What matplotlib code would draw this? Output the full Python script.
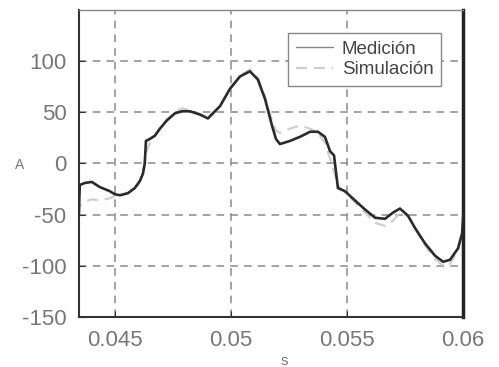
import matplotlib.pyplot as plt

# valores (tiempo en s, corriente en A)
t = [0.04345, 0.04349, 0.04371, 0.04401, 0.04435, 0.04478, 0.04500, 0.04522,
     0.04556, 0.04586, 0.04608, 0.04621, 0.04629, 0.04634, 0.04651, 0.04672,
     0.04694, 0.04724, 0.04759, 0.04789, 0.04823, 0.04866, 0.04901, 0.04953,
     0.04996, 0.05039, 0.05082, 0.05116, 0.05147, 0.05177, 0.05194, 0.05211,
     0.05254, 0.05297, 0.05341, 0.05375, 0.05405, 0.05427, 0.05444, 0.05461,
     0.05491, 0.05534, 0.05578, 0.05621, 0.05664, 0.05698, 0.05728, 0.05763,
     0.05793, 0.05836, 0.05879, 0.05914, 0.05944, 0.05978, 0.05996, 0.06000]

medicion = [-50, -21, -19, -18, -23, -27, -30, -31,
            -29, -24, -17, -10, 0, 22, 24, 27,
            34, 42, 49, 51, 51, 48, 44, 56,
            73, 85, 90, 82, 63, 37, 24, 19,
            22, 26, 31, 31, 26, 12, 8, -24,
            -27, -36, -45, -53, -54, -48, -44, -51,
            -63, -78, -90, -96, -94, -83, -68, -53]

simulacion = [-50, -42, -37, -35, -36, -34, -32, -31,
              -29, -25, -18, -8, 2, 10, 20, 27,
              34, 43, 50, 54, 52, 47, 45, 56,
              72, 86, 92, 84, 65, 42, 32, 30,
              34, 37, 34, 30, 20, 5, -8, -22,
              -28, -38, -48, -58, -61, -56, -48, -52,
              -63, -80, -93, -100, -98, -85, -68, -52]

x_ticks = [0.045, 0.05, 0.055, 0.06]
x_labels = ['0.045', '0.05', '0.055', '0.06']
y_ticks = [-150, -100, -50, 0, 50, 100]

plt.rcParams['font.family'] = ['Liberation Sans', 'DejaVu Sans']
plt.rcParams['axes.unicode_minus'] = False

fig = plt.figure(figsize=(4.99, 3.67), dpi=100)
ax = fig.add_axes([0.158, 0.136, 0.77, 0.837])

ax.plot(t, simulacion, color='#cfcfcf', lw=1.6, ls=(0, (5, 3)), label='Simulación', zorder=3)
ax.plot(t, medicion, color='#2b2b2b', lw=1.9, label='Medición', zorder=4)

ax.set_xlim(0.04345, 0.06)
ax.set_ylim(-150, 150)
ax.set_xticks(x_ticks)
ax.set_xticklabels(x_labels)
ax.set_yticks(y_ticks)

ax.grid(True, color='#8a8a8a', ls=(0, (5, 4)), lw=1.1)
ax.tick_params(direction='in', length=4, color='#333333', labelcolor='#777777',
               labelsize=16, pad=9)

for side in ['left', 'bottom']:
    ax.spines[side].set_color('#333333')
    ax.spines[side].set_linewidth(1.5)
ax.spines['top'].set_color('#888888')
ax.spines['top'].set_linewidth(1.0)
ax.spines['right'].set_color('#222222')
ax.spines['right'].set_linewidth(2.5)

fig.text(0.04, 1 - 165 / 367, 'A', fontsize=10, color='#777777', ha='center', va='center')
fig.text(284 / 499, 1 - 361 / 367, 's', fontsize=11, color='#777777', ha='center', va='center')

handles, labels = ax.get_legend_handles_labels()
leg = ax.legend(handles[::-1], labels[::-1], loc='upper right',
                bbox_to_anchor=(0.943, 0.925), borderaxespad=0, fancybox=False,
                edgecolor='#888888', fontsize=13.5, handlelength=2.0,
                handletextpad=0.45, labelspacing=0.2, borderpad=0.4, framealpha=1)
leg.get_frame().set_linewidth(1.0)
leg.legend_handles[0].set_color('#888888')
leg.legend_handles[0].set_linewidth(1.0)
for txt in leg.get_texts():
    txt.set_color('#444444')

fig.savefig('out.png', dpi=100)
